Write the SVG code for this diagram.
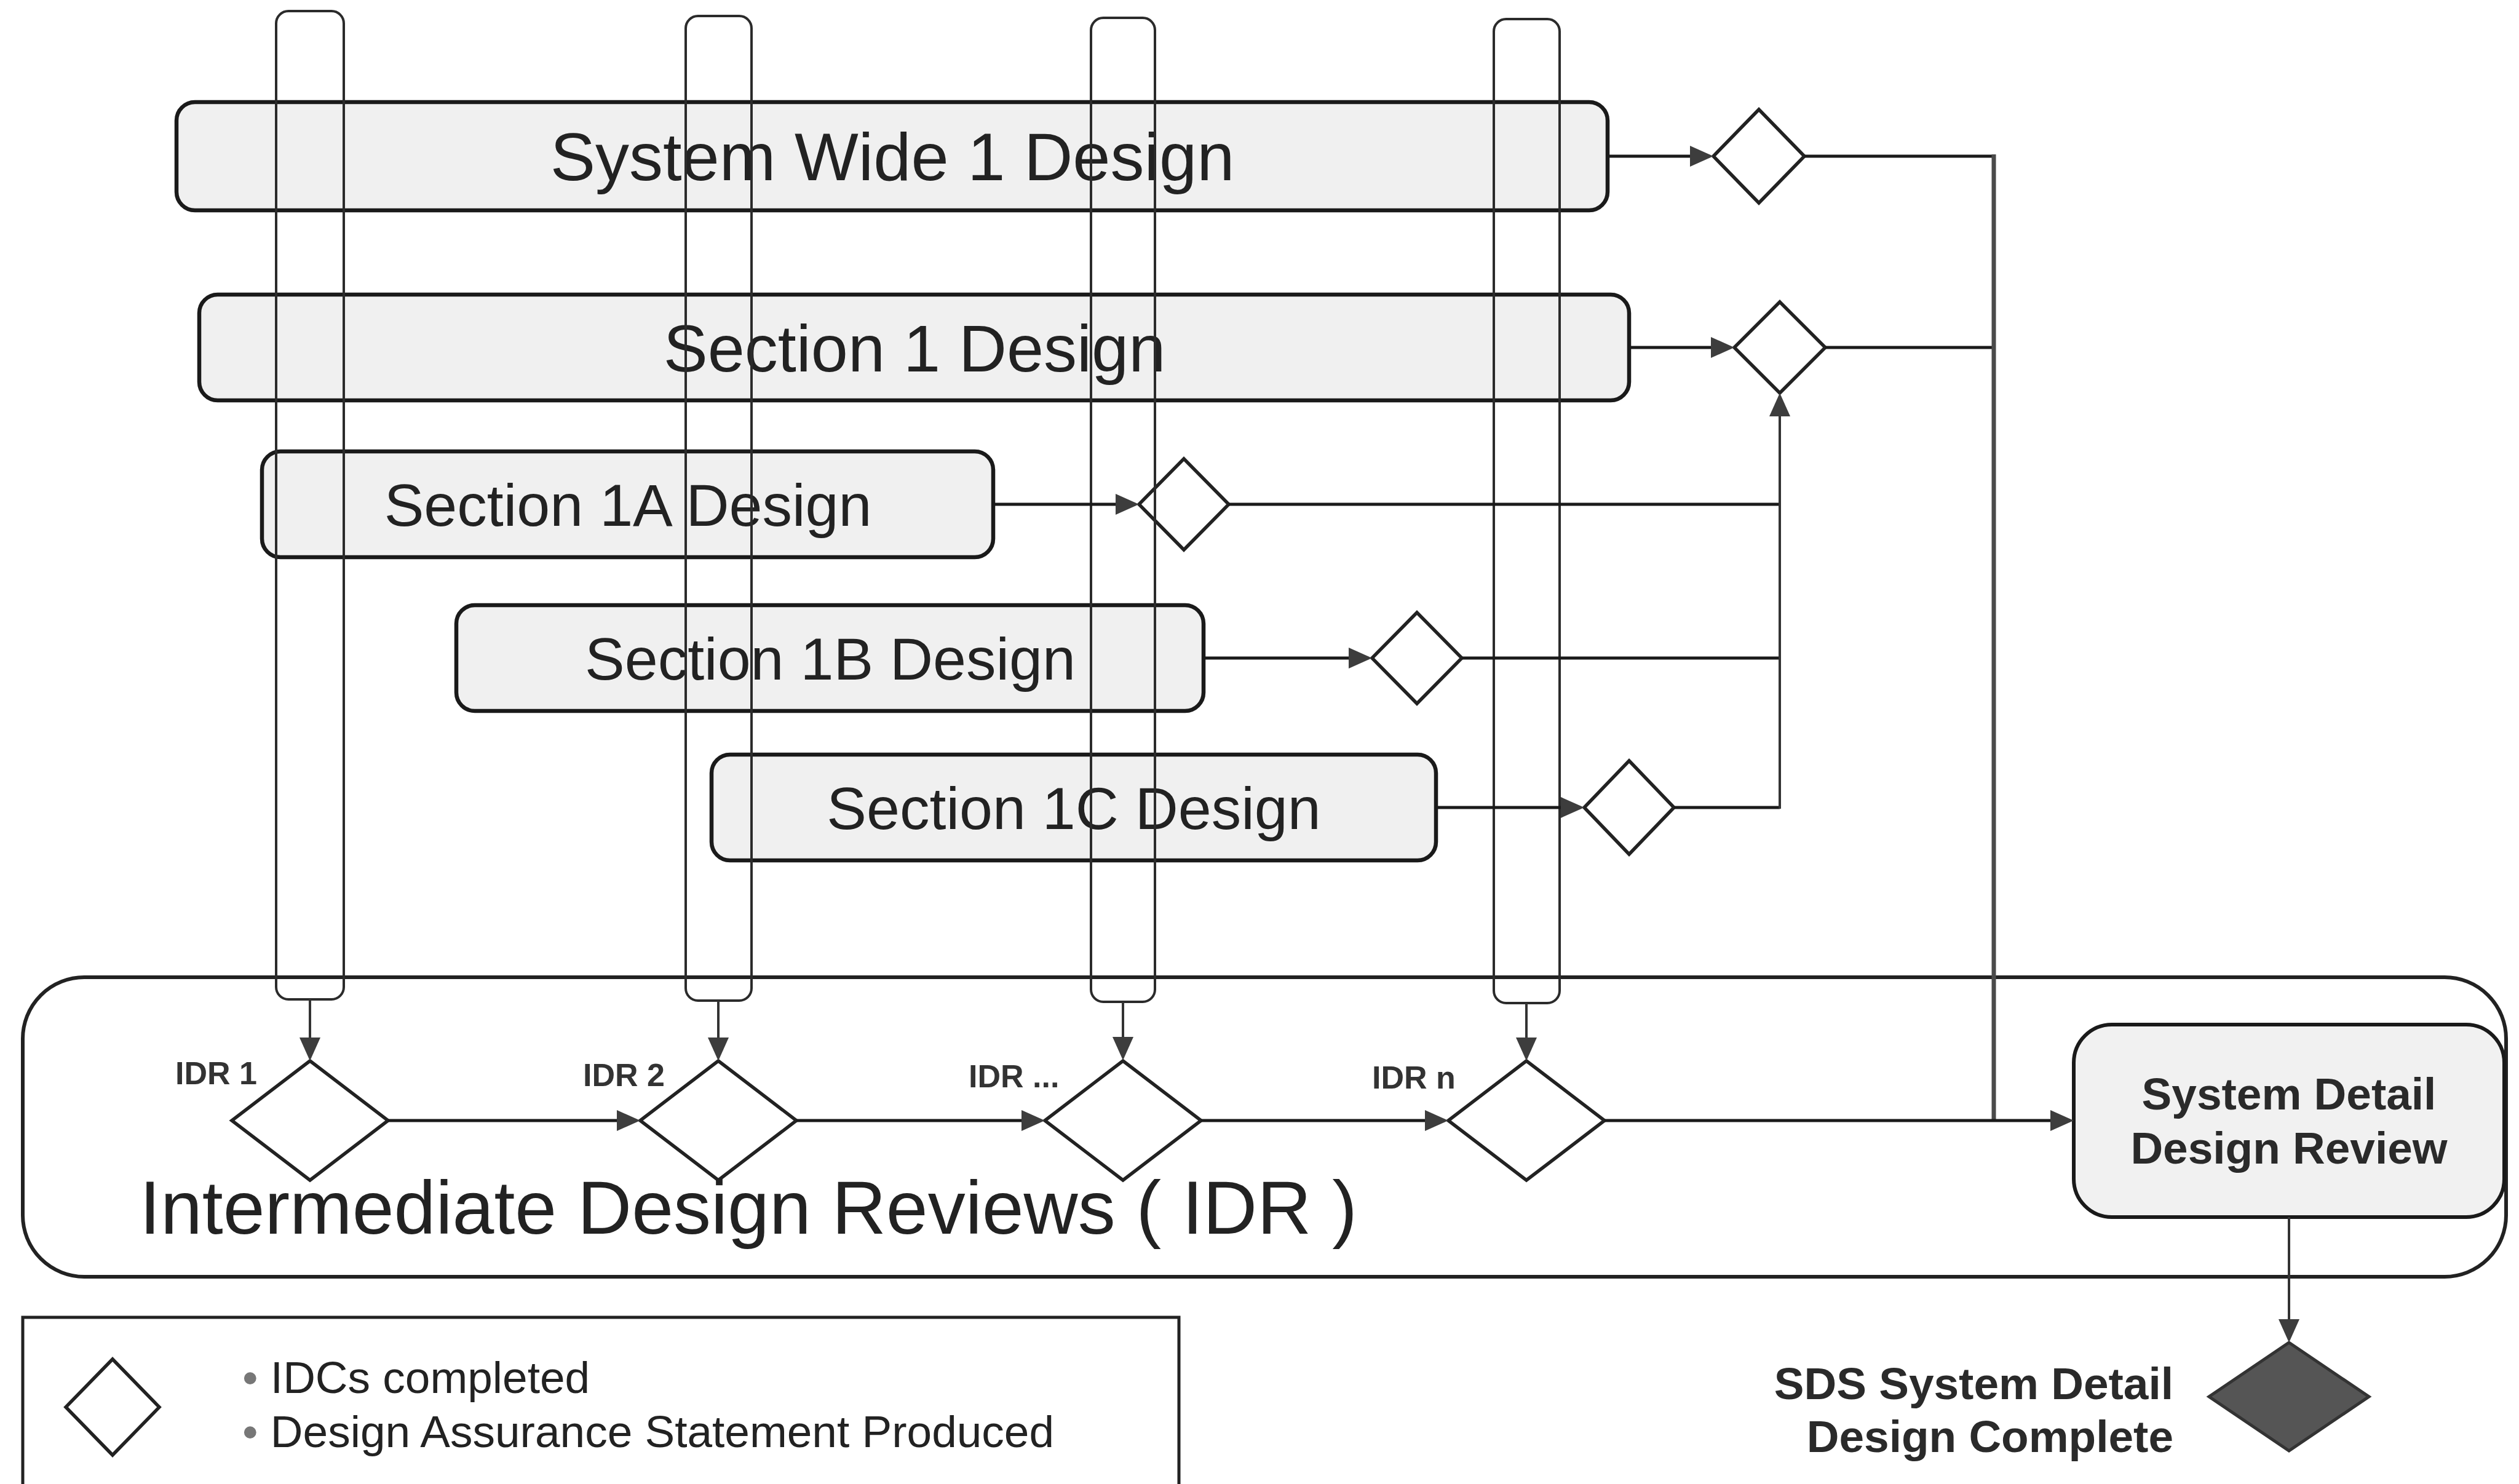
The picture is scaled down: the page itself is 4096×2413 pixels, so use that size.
<svg xmlns="http://www.w3.org/2000/svg" width="4096" height="2413" viewBox="0 0 4096 2413">
<defs>
<style>
.box{fill:#f0f0f0;stroke:#1a1a1a;stroke-width:6.5}
.bar{fill:none;stroke:#2b2b2b;stroke-width:4}
.dia{fill:#ffffff;stroke:#222;stroke-width:5.5}
.ln{fill:none;stroke:#1a1a1a;stroke-width:5}
.thin{fill:none;stroke:#333;stroke-width:4}
.gray{fill:none;stroke:#4a4a4a;stroke-width:7}
.t{font-family:"Liberation Sans",Arial,sans-serif;fill:#222}
.b{font-family:"Liberation Sans",Arial,sans-serif;font-weight:bold;fill:#2a2a2a}
.lbl{font-family:"Liberation Sans",Arial,sans-serif;font-weight:bold;fill:#333}
</style>
<marker id="ah" markerUnits="userSpaceOnUse" viewBox="0 0 38 34" markerWidth="38" markerHeight="34" refX="32" refY="17" orient="auto">
<path d="M0,0 L38,17 L0,34 z" fill="#3d3d3d"/>
</marker>
</defs>
<rect width="4096" height="2413" fill="#ffffff"/>

<g id="idr-container">
<rect x="37" y="1589" width="4038" height="487" rx="100" fill="#ffffff" stroke="#222" stroke-width="6"/>
<text class="t" x="227" y="2006" font-size="122" fill="#333">Intermediate Design Reviews ( IDR )</text>
</g>

<g id="legend">
<rect x="37" y="2142" width="1880" height="400" fill="none" stroke="#222" stroke-width="5"/>
<polygon class="dia" points="183,2210 259,2288 183,2366 107,2288"/>
<text class="t" x="394" y="2265" font-size="73"><tspan fill="#777">•</tspan> IDCs completed</text>
<text class="t" x="394" y="2353" font-size="73"><tspan fill="#777">•</tspan> Design Assurance Statement Produced</text>
</g>

<g id="system-wide-1">
<rect class="box" x="287" y="166" width="2327" height="176" rx="30"/>
<text class="t" x="1451" y="293" font-size="110" text-anchor="middle">System Wide 1 Design</text>
</g>
<g id="section-1">
<rect class="box" x="324" y="479" width="2325" height="172" rx="30"/>
<text class="t" x="1487" y="604" font-size="108" text-anchor="middle">Section 1 Design</text>
</g>
<g id="section-1a">
<rect class="box" x="426" y="734" width="1189" height="172" rx="30"/>
<text class="t" x="1021" y="855" font-size="97" text-anchor="middle">Section 1A Design</text>
</g>
<g id="section-1b">
<rect class="box" x="742" y="984" width="1215" height="172" rx="30"/>
<text class="t" x="1350" y="1105" font-size="97" text-anchor="middle">Section 1B Design</text>
</g>
<g id="section-1c">
<rect class="box" x="1157" y="1227" width="1178" height="172" rx="30"/>
<text class="t" x="1746" y="1348" font-size="97" text-anchor="middle">Section 1C Design</text>
</g>

<g id="sddr">
<rect x="3372" y="1666" width="700" height="313" rx="62" fill="#f1f1f1" stroke="#1a1a1a" stroke-width="6"/>
<text class="b" x="3722" y="1804" font-size="73" text-anchor="middle">System Detail</text>
<text class="b" x="3722" y="1892" font-size="73" text-anchor="middle">Design Review</text>
</g>

<g id="sds-complete">
<polygon points="3722,2183 3852,2271 3722,2359 3592,2271" fill="#555" stroke="#333" stroke-width="5"/>
<text class="b" x="3534" y="2275" font-size="73" text-anchor="end">SDS System Detail</text>
<text class="b" x="3534" y="2361" font-size="73" text-anchor="end">Design Complete</text>
</g>

<g id="d-sw1"><polygon class="dia" points="2860,178 2934,254 2860,330 2786,254"/></g>
<g id="d-s1"><polygon class="dia" points="2894,491 2968,565 2894,639 2820,565"/></g>
<g id="d-s1a"><polygon class="dia" points="1925,746 1998,820 1925,894 1852,820"/></g>
<g id="d-s1b"><polygon class="dia" points="2304,996 2377,1070 2304,1144 2231,1070"/></g>
<g id="d-s1c"><polygon class="dia" points="2649,1237 2722,1313 2649,1389 2576,1313"/></g>

<g id="idr-1"><polygon class="dia" points="504,1725 631,1822 504,1919 377,1822"/><text class="lbl" x="285" y="1763" font-size="52">IDR 1</text></g>
<g id="idr-2"><polygon class="dia" points="1168,1725 1295,1822 1168,1919 1041,1822"/><text class="lbl" x="948" y="1766" font-size="52">IDR 2</text></g>
<g id="idr-etc"><polygon class="dia" points="1826,1725 1953,1822 1826,1919 1699,1822"/><text class="lbl" x="1575" y="1768" font-size="52">IDR ...</text></g>
<g id="idr-n"><polygon class="dia" points="2482,1725 2609,1822 2482,1919 2355,1822"/><text class="lbl" x="2231" y="1770" font-size="52">IDR n</text></g>

<g id="iteration-1"><rect class="bar" x="449" y="18" width="110" height="1607" rx="20"/></g>
<g id="iteration-2"><rect class="bar" x="1115" y="26" width="107" height="1601" rx="20"/></g>
<g id="iteration-3"><rect class="bar" x="1774" y="29" width="104" height="1600" rx="20"/></g>
<g id="iteration-4"><rect class="bar" x="2429" y="31" width="107" height="1600" rx="20"/></g>

<g id="connectors">
<path class="ln" d="M2614,254 H2780" marker-end="url(#ah)"/>
<path class="ln" d="M2934,254 H3242"/>
<path class="ln" d="M2649,565 H2814" marker-end="url(#ah)"/>
<path class="ln" d="M2968,565 H3242"/>
<path class="gray" d="M3242,251 V1822"/>
<path class="ln" d="M1615,820 H1846" marker-end="url(#ah)"/>
<path class="ln" d="M1998,820 H2894"/>
<path class="ln" d="M1957,1070 H2225" marker-end="url(#ah)"/>
<path class="ln" d="M2377,1070 H2894"/>
<path class="ln" d="M2335,1313 H2570" marker-end="url(#ah)"/>
<path class="ln" d="M2722,1313 H2894"/>
<path class="thin" d="M2894,1315 V645" marker-end="url(#ah)"/>
<path class="thin" d="M504,1625 V1719" marker-end="url(#ah)"/>
<path class="thin" d="M1168,1627 V1719" marker-end="url(#ah)"/>
<path class="thin" d="M1826,1629 V1718" marker-end="url(#ah)"/>
<path class="thin" d="M2482,1631 V1719" marker-end="url(#ah)"/>
<path class="ln" d="M631,1822 H1035" marker-end="url(#ah)"/>
<path class="ln" d="M1295,1822 H1693" marker-end="url(#ah)"/>
<path class="ln" d="M1953,1822 H2349" marker-end="url(#ah)"/>
<path class="ln" d="M2609,1822 H3366" marker-end="url(#ah)"/>
<path class="thin" d="M3722,1979 V2177" marker-end="url(#ah)"/>
</g>
</svg>
